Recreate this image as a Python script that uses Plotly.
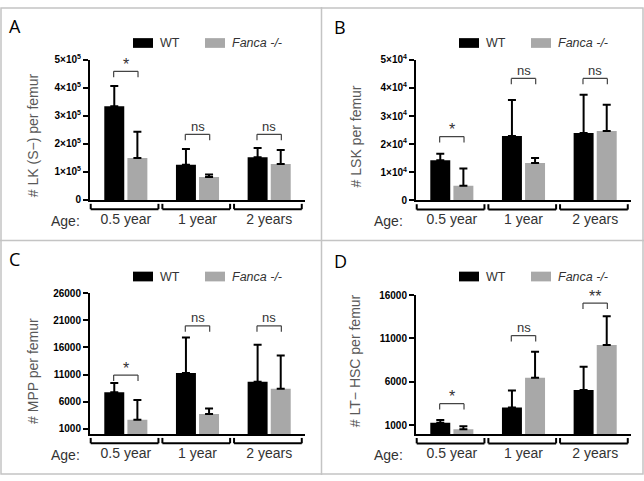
import plotly.graph_objects as go

W, H = 644, 481

# ---------------- data ----------------
groups = ["0.5 year", "1 year", "2 years"]
series_names = ["WT", "Fanca -/-"]

# Panel A: # LK (S-) per femur
a_wt = [334000, 126000, 152000]
a_wt_err = [73000, 56000, 33000]
a_ko = [150000, 82000, 128000]
a_ko_err = [93000, 9000, 50000]
a_sig = ["*", "ns", "ns"]
a_sig_y = [459000, 234000, 234000]
a_tickvals = [0, 100000, 200000, 300000, 400000, 500000]
a_ticktext = ["0", "1×10<sup>5</sup>", "2×10<sup>5</sup>", "3×10<sup>5</sup>",
              "4×10<sup>5</sup>", "5×10<sup>5</sup>"]

# Panel B: # LSK per femur
b_wt = [14300, 22900, 24000]
b_wt_err = [2300, 12800, 13600]
b_ko = [5200, 13300, 24700]
b_ko_err = [6100, 1800, 9300]
b_sig = ["*", "ns", "ns"]
b_sig_y = [22700, 43400, 43400]
b_tickvals = [0, 10000, 20000, 30000, 40000, 50000]
b_ticktext = ["0", "1×10<sup>4</sup>", "2×10<sup>4</sup>", "3×10<sup>4</sup>",
              "4×10<sup>4</sup>", "5×10<sup>4</sup>"]

# Panel C: # MPP per femur
c_wt = [7730, 11270, 9650]
c_wt_err = [1680, 6550, 6850]
c_ko = [2620, 3700, 8390]
c_ko_err = [3670, 1020, 6130]
c_sig = ["*", "ns", "ns"]
c_sig_y = [10900, 20000, 20000]
c_tickvals = [1000, 6000, 11000, 16000, 21000, 26000]
c_ticktext = ["1000", "6000", "11000", "16000", "21000", "26000"]

# Panel D: # LT- HSC per femur
d_wt = [1300, 3050, 5070]
d_wt_err = [330, 1980, 2690]
d_ko = [550, 6490, 10250]
d_ko_err = [370, 2990, 3320]
d_sig = ["*", "ns", "**"]
d_sig_y = [3500, 11330, 15070]
d_tickvals = [1000, 6000, 11000, 16000]
d_ticktext = ["1000", "6000", "11000", "16000"]

panel_letters = ["A", "B", "C", "D"]
y_titles = ["# LK (S\u2212) per femur", "# LSK per femur", "# MPP per femur",
            "# LT\u2212 HSC per femur"]

# ---------------- layout geometry (px) ----------------
def fx(px):
    return px / W

def fy(py):
    return 1 - py / H

FONT = "Liberation Sans"
WT_COLOR = "#000000"
KO_COLOR = "#a8a8a8"

panels = [
    dict(wt=a_wt, wte=a_wt_err, ko=a_ko, koe=a_ko_err, sig=a_sig, sigy=a_sig_y,
         tv=a_tickvals, tt=a_ticktext, top=500000,
         xd=(90, 305), yd=(198.3, 54.3), letter=(15, 20), ytitle=(33, 131.7),
         age=(65.5, 220), ptop=0),
    dict(wt=b_wt, wte=b_wt_err, ko=b_ko, koe=b_ko_err, sig=b_sig, sigy=b_sig_y,
         tv=b_tickvals, tt=b_ticktext, top=50000,
         xd=(416, 631), yd=(198.7, 54.3), letter=(340, 21), ytitle=(356, 133),
         age=(388.5, 220), ptop=0),
    dict(wt=c_wt, wte=c_wt_err, ko=c_ko, koe=c_ko_err, sig=c_sig, sigy=c_sig_y,
         tv=c_tickvals, tt=c_ticktext, top=26000,
         xd=(90, 305), yd=(438.9, 294.3), letter=(14, 259.5), ytitle=(33, 374),
         age=(65.5, 460), ptop=240),
    dict(wt=d_wt, wte=d_wt_err, ko=d_ko, koe=d_ko_err, sig=d_sig, sigy=d_sig_y,
         tv=d_tickvals, tt=d_ticktext, top=16000,
         xd=(416, 631), yd=(439, 296), letter=(340.5, 261), ytitle=(355, 364),
         age=(388.5, 460.5), ptop=240),
]

fig = go.Figure()
shapes = []
annotations = []

for k, p in enumerate(panels, start=1):
    sx = "" if k == 1 else str(k)
    xr, yr = "x" + sx, "y" + sx
    for vals, errs, color, name in [(p["wt"], p["wte"], WT_COLOR, series_names[0]),
                                    (p["ko"], p["koe"], KO_COLOR, series_names[1])]:
        fig.add_trace(go.Bar(
            x=groups, y=vals, name=name, showlegend=False,
            marker=dict(color=color, line=dict(width=0)),
            error_y=dict(type="data", symmetric=False, array=errs,
                         arrayminus=[0] * len(errs), color="black",
                         thickness=2, width=4),
            xaxis=xr, yaxis=yr,
        ))
    x0, x1 = p["xd"]
    yb, yt = p["yd"]
    fig.layout["xaxis" + sx] = dict(
        domain=[fx(x0), fx(x1)], anchor=yr, type="category", range=[-0.5, 2.5],
        showline=True, linecolor="black", linewidth=2, ticks="",
        tickfont=dict(family=FONT, size=14, color="#333333"),
        ticklabelstandoff=5, showgrid=False, zeroline=False, fixedrange=True,
    )
    fig.layout["yaxis" + sx] = dict(
        domain=[fy(yb), fy(yt)], anchor=xr, range=[0, p["top"]],
        tickmode="array", tickvals=p["tv"], ticktext=p["tt"],
        ticks="outside", ticklen=5, tickwidth=2, tickcolor="black",
        showline=True, linecolor="black", linewidth=2,
        tickfont=dict(family=FONT, size=10, color="black", weight="bold"),
        showgrid=False, zeroline=False, fixedrange=True,
    )
    dpp = p["top"] / (yb - yt)  # data units per px
    # group brackets under the axis
    for i in range(3):
        l = (i + 0.01) / 3
        r = (i + 0.955) / 3
        ylow = fy(yb + 9.5)
        yhigh = fy(yb + 4)
        common = dict(type="line", xref=xr + " domain", yref="paper",
                      line=dict(color="black", width=2))
        shapes.append(dict(common, x0=l, x1=r, y0=ylow, y1=ylow))
        shapes.append(dict(common, x0=l, x1=l, y0=ylow, y1=yhigh))
        shapes.append(dict(common, x0=r, x1=r, y0=ylow, y1=yhigh))
    # significance brackets
    for i in range(3):
        l = (i + 0.5 - 0.17) / 3
        r = (i + 0.5 + 0.17) / 3
        ytop = p["sigy"][i]
        ylegs = ytop - 6 * dpp
        common = dict(type="line", xref=xr + " domain", yref=yr,
                      line=dict(color="#444444", width=1.2))
        shapes.append(dict(common, x0=l, x1=r, y0=ytop, y1=ytop))
        shapes.append(dict(common, x0=l, x1=l, y0=ytop, y1=ylegs))
        shapes.append(dict(common, x0=r, x1=r, y0=ytop, y1=ylegs))
        lab = p["sig"][i]
        annotations.append(dict(
            x=(i + 0.5) / 3, xref=xr + " domain", y=ytop, yref=yr,
            text=lab, showarrow=False, xanchor="center", yanchor="middle",
            yshift=7 if "*" in lab else 8,
            font=dict(family=FONT, size=16 if "*" in lab else 13, color="#333333"),
        ))
    # legend
    ptop = p["ptop"]
    shapes.append(dict(type="rect", xref="paper", yref="paper",
                       x0=fx(x0 + 43), x1=fx(x0 + 63), y0=fy(ptop + 32), y1=fy(ptop + 42),
                       fillcolor=WT_COLOR, line=dict(width=0)))
    shapes.append(dict(type="rect", xref="paper", yref="paper",
                       x0=fx(x0 + 115), x1=fx(x0 + 135), y0=fy(ptop + 32), y1=fy(ptop + 42),
                       fillcolor=KO_COLOR, line=dict(width=0)))
    annotations.append(dict(x=fx(x0 + 68), y=fy(ptop + 37), xref="paper", yref="paper",
                            text=series_names[0], showarrow=False, xanchor="left",
                            yanchor="middle", font=dict(family=FONT, size=12.5, color="#333333")))
    annotations.append(dict(x=fx(x0 + 140), y=fy(ptop + 37), xref="paper", yref="paper",
                            text="<i>" + series_names[1] + "</i>", showarrow=False,
                            xanchor="left", yanchor="middle",
                            font=dict(family=FONT, size=12.5, color="#333333")))
    # panel letter
    annotations.append(dict(x=fx(p["letter"][0]), y=fy(p["letter"][1]), xref="paper",
                            yref="paper", text=panel_letters[k - 1], showarrow=False,
                            xanchor="center", yanchor="middle",
                            font=dict(family="Open Sans", size=18, color="black")))
    # y title
    annotations.append(dict(x=fx(p["ytitle"][0]), y=fy(p["ytitle"][1]), xref="paper",
                            yref="paper", text=y_titles[k - 1], showarrow=False,
                            textangle=-90, xanchor="center", yanchor="middle",
                            font=dict(family=FONT, size=14, color="#595959")))
    # Age:
    annotations.append(dict(x=fx(p["age"][0]), y=fy(p["age"][1]), xref="paper",
                            yref="paper", text="Age:", showarrow=False,
                            xanchor="center", yanchor="middle",
                            font=dict(family=FONT, size=14, color="#333333")))

# panel frames
frame = dict(color="#c4c4c4", width=1.5)
shapes.append(dict(type="rect", xref="paper", yref="paper", x0=fx(1), x1=fx(643),
                   y0=fy(480), y1=fy(1), line=frame))
shapes.append(dict(type="line", xref="paper", yref="paper", x0=fx(321.5), x1=fx(321.5),
                   y0=0, y1=1, line=frame))
shapes.append(dict(type="line", xref="paper", yref="paper", x0=0, x1=1,
                   y0=fy(240), y1=fy(240), line=frame))

fig.update_layout(
    width=W, height=H, margin=dict(l=0, r=0, t=0, b=0),
    paper_bgcolor="white", plot_bgcolor="white",
    barmode="group", bargap=0.355, bargroupgap=0.136,
    shapes=shapes, annotations=annotations, showlegend=False,
)

fig.write_html("out.html",
               config={"displayModeBar": False},
               post_script="document.body.style.margin='0px';"
                           "document.body.style.padding='0px';"
                           "document.body.style.overflow='hidden';")
